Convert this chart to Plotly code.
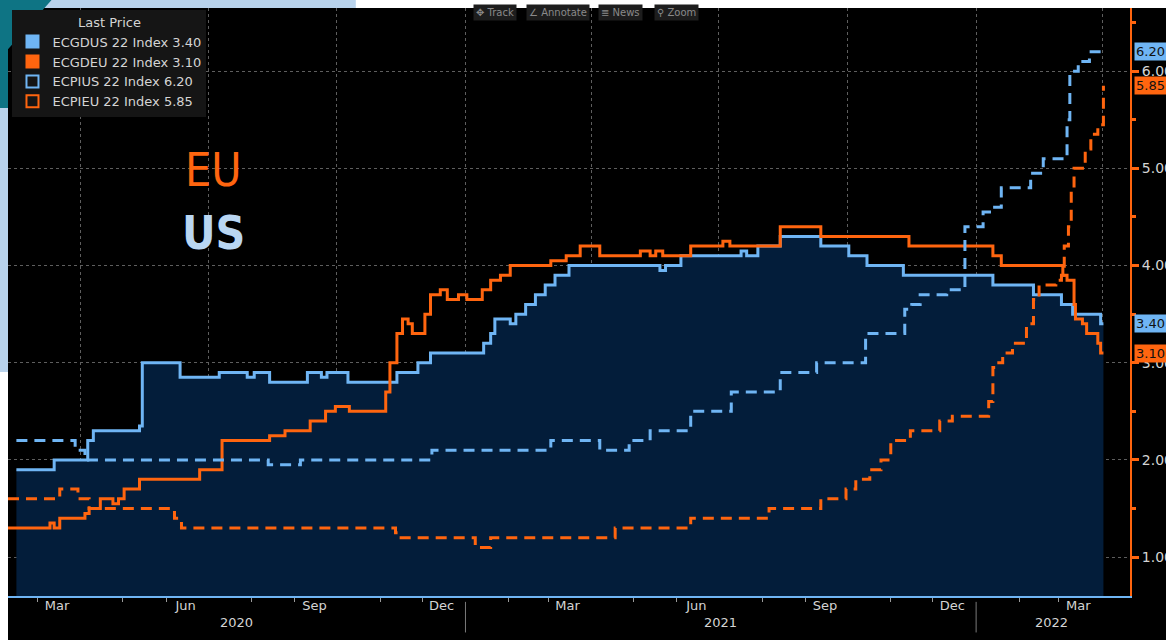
import plotly.graph_objects as go

# ---- values (step series, change points) ----
gdp_us_dates = ["2020-02-15", "2020-03-13", "2020-04-06", "2020-04-10", "2020-05-13", "2020-05-15",
                "2020-06-11", "2020-07-09", "2020-07-29", "2020-08-03", "2020-08-14", "2020-09-10",
                "2020-09-20", "2020-09-24", "2020-10-09", "2020-11-13", "2020-11-28", "2020-12-07",
                "2021-01-14", "2021-01-19", "2021-01-22", "2021-02-02", "2021-02-06", "2021-02-13",
                "2021-02-20", "2021-02-27", "2021-03-06", "2021-03-16", "2021-05-20", "2021-05-24",
                "2021-06-04", "2021-07-17", "2021-07-21", "2021-07-29", "2021-08-14", "2021-09-12",
                "2021-10-02", "2021-10-15", "2021-11-10", "2022-01-13", "2022-02-11", "2022-03-03",
                "2022-03-11", "2022-03-31", "2022-04-02"]
gdp_us_vals = [1.9, 2.0, 2.2, 2.3, 2.35, 3.0, 2.85, 2.9, 2.85, 2.9, 2.8, 2.9, 2.85, 2.9, 2.8,
               2.9, 3.0, 3.1, 3.2, 3.3, 3.45, 3.4, 3.5, 3.6, 3.7, 3.8, 3.9, 4.0, 3.95, 4.0,
               4.1, 4.15, 4.1, 4.2, 4.3, 4.2, 4.1, 4.0, 3.9, 3.8, 3.7, 3.6, 3.5, 3.4, 3.4]

gdp_eu_dates = ["2020-02-09", "2020-03-10", "2020-03-13", "2020-03-17", "2020-04-04", "2020-04-07",
                "2020-04-15", "2020-04-24", "2020-04-28", "2020-05-02", "2020-05-13", "2020-06-25",
                "2020-07-11", "2020-08-14", "2020-08-25", "2020-09-12", "2020-09-23", "2020-09-30",
                "2020-10-10", "2020-11-05", "2020-11-08", "2020-11-13", "2020-11-17", "2020-11-21",
                "2020-11-24", "2020-12-03", "2020-12-07", "2020-12-14", "2020-12-19", "2020-12-27",
                "2021-01-02", "2021-01-13", "2021-01-19", "2021-01-26", "2021-02-02", "2021-03-03",
                "2021-03-14", "2021-03-24", "2021-04-07", "2021-05-06", "2021-05-13", "2021-05-17",
                "2021-05-22", "2021-06-11", "2021-07-04", "2021-07-09", "2021-08-14", "2021-09-12",
                "2021-11-14", "2022-01-13", "2022-01-19", "2022-03-04", "2022-03-07", "2022-03-12",
                "2022-03-13", "2022-03-18", "2022-03-21", "2022-03-29", "2022-03-31", "2022-04-02"]
gdp_eu_vals = [1.3, 1.35, 1.3, 1.4, 1.45, 1.5, 1.6, 1.55, 1.6, 1.7, 1.8, 1.9, 2.2, 2.25, 2.3,
               2.4, 2.5, 2.55, 2.5, 2.7, 3.0, 3.3, 3.45, 3.4, 3.3, 3.5, 3.7, 3.75, 3.65, 3.7,
               3.65, 3.75, 3.85, 3.9, 4.0, 4.05, 4.1, 4.2, 4.1, 4.15, 4.1, 4.15, 4.1, 4.2, 4.25,
               4.2, 4.4, 4.3, 4.2, 4.1, 4.0, 3.9, 3.85, 3.6, 3.45, 3.4, 3.3, 3.2, 3.1, 3.1]

cpi_us_dates = ["2020-02-15", "2020-03-28", "2020-04-04", "2020-08-13", "2020-09-05", "2020-12-08",
                "2021-03-03", "2021-04-07", "2021-04-28", "2021-05-13", "2021-06-11", "2021-07-10",
                "2021-08-14", "2021-09-09", "2021-10-14", "2021-11-11", "2021-11-16", "2021-11-22",
                "2021-12-11", "2021-12-24", "2022-01-06", "2022-01-13", "2022-01-19", "2022-02-09",
                "2022-02-18", "2022-03-07", "2022-03-09", "2022-03-15", "2022-03-23", "2022-04-02"]
cpi_us_vals = [2.2, 2.1, 2.0, 1.95, 2.0, 2.1, 2.2, 2.1, 2.2, 2.3, 2.5, 2.7, 2.9, 3.0, 3.3,
               3.55, 3.6, 3.7, 3.75, 4.4, 4.55, 4.6, 4.8, 4.95, 5.1, 5.5, 6.0, 6.1, 6.2, 6.2]

cpi_eu_dates = ["2020-02-09", "2020-03-17", "2020-03-30", "2020-04-07", "2020-06-07", "2020-06-12",
                "2020-11-12", "2020-11-16", "2021-01-08", "2021-01-19", "2021-04-18", "2021-06-11",
                "2021-08-06", "2021-09-12", "2021-09-30", "2021-10-07", "2021-10-17", "2021-10-25",
                "2021-11-01", "2021-11-15", "2021-12-06", "2021-12-15", "2022-01-10", "2022-01-13",
                "2022-01-15", "2022-01-20", "2022-01-27", "2022-02-06", "2022-02-11", "2022-02-15",
                "2022-02-27", "2022-03-03", "2022-03-05", "2022-03-08", "2022-03-10", "2022-03-12",
                "2022-03-20", "2022-03-24", "2022-03-29", "2022-04-02"]
cpi_eu_vals = [1.6, 1.7, 1.6, 1.5, 1.4, 1.3, 1.25, 1.2, 1.1, 1.2, 1.3, 1.4, 1.5, 1.6, 1.7,
               1.8, 1.9, 2.0, 2.2, 2.3, 2.4, 2.45, 2.6, 2.95, 3.0, 3.1, 3.2, 3.4, 3.65, 3.8,
               3.85, 3.9, 4.2, 4.4, 4.8, 5.0, 5.2, 5.35, 5.45, 5.85]

names = ["ECGDUS 22 Index", "ECGDEU 22 Index", "ECPIUS 22 Index", "ECPIEU 22 Index"]

month_ticks = ["2020-03-15", "2020-06-15", "2020-09-15", "2020-12-15", "2021-03-15",
               "2021-06-15", "2021-09-15", "2021-12-15", "2022-03-15"]
month_text = ["Mar", "Jun", "Sep", "Dec", "Mar", "Jun", "Sep", "Dec", "Mar"]
year_text = ["2020", "2021", "2022"]
year_pos = ["2020-07-21", "2021-07-02", "2022-02-24"]
year_breaks = ["2021-01-01", "2022-01-01"]

BLUE = '#6fb5f4'
ORANGE = '#ff650f'
FILL = '#031d3a'
TXT = '#d4d4d4'
FONT = 'DejaVu Sans'
x_range = ["2020-02-09", "2022-04-21"]

fig = go.Figure()

# real series
fig.add_trace(go.Scatter(x=gdp_us_dates, y=gdp_us_vals, mode='lines',
                         line=dict(color=BLUE, width=3, shape='hv'),
                         fill='tozeroy', fillcolor=FILL, showlegend=False))
fig.add_trace(go.Scatter(x=gdp_eu_dates, y=gdp_eu_vals, mode='lines',
                         line=dict(color=ORANGE, width=3, shape='hv'), showlegend=False))
fig.add_trace(go.Scatter(x=cpi_us_dates, y=cpi_us_vals, mode='lines',
                         line=dict(color=BLUE, width=3, shape='hv', dash='11px,7px'),
                         showlegend=False))
fig.add_trace(go.Scatter(x=cpi_eu_dates, y=cpi_eu_vals, mode='lines',
                         line=dict(color=ORANGE, width=3, shape='hv', dash='11px,7px'),
                         showlegend=False))

# legend entries (Bloomberg style swatches)
last_vals = [gdp_us_vals[-1], gdp_eu_vals[-1], cpi_us_vals[-1], cpi_eu_vals[-1]]
colors = [BLUE, ORANGE, BLUE, ORANGE]
symbols = ['square', 'square', 'square-open', 'square-open']
for name, val, col, sym in zip(names, last_vals, colors, symbols):
    fig.add_trace(go.Scatter(x=[None], y=[None], mode='markers',
                             marker=dict(symbol=sym, size=12, color=col, line=dict(color=col, width=2)),
                             name=f"{name} {val:.2f}"))

# helper trace so the label axis gets drawn
fig.add_trace(go.Scatter(x=[x_range[0]], y=[None], xaxis='x2', showlegend=False, hoverinfo='skip'))

fig.update_layout(
    width=1166, height=640,
    margin=dict(l=8, r=36, t=8, b=44, autoexpand=False),
    paper_bgcolor='black', plot_bgcolor='black',
    font=dict(family=FONT, color=TXT, size=13),
    xaxis=dict(type='date', range=x_range, tickmode='linear', tick0='2020-01-01', dtick='M3',
               showticklabels=False, ticks='', showgrid=True, gridcolor='#5e5e5e',
               griddash='dot', gridwidth=1, zeroline=False,
               showline=True, linecolor=BLUE, linewidth=2,
               minor=dict(ticks='outside', ticklen=4, tickcolor='#9a9a9a',
                          dtick='M1', tick0='2020-01-01', showgrid=False)),
    xaxis2=dict(type='date', range=x_range, overlaying='x', side='bottom', anchor='y',
                tickmode='array', tickvals=month_ticks, ticktext=month_text,
                showgrid=False, ticks='', showline=False, zeroline=False,
                tickfont=dict(size=13, color=TXT, family=FONT)),
    yaxis=dict(side='right', range=[0.6, 6.65], tickmode='linear', tick0=0, dtick=1,
               tickformat='.2f', showgrid=True, gridcolor='#5e5e5e', griddash='dot',
               zeroline=False, showline=True, linecolor=ORANGE, linewidth=2,
               ticks='outside', ticklen=7, tickwidth=3, tickcolor=ORANGE,
               tickfont=dict(size=14, color=TXT, family=FONT),
               minor=dict(ticks='outside', ticklen=4, tickcolor=ORANGE, dtick=0.5,
                          showgrid=False)),
    legend=dict(x=0.004, y=0.997, xanchor='left', yanchor='top', bgcolor='#151515',
                font=dict(size=13, color=TXT, family=FONT), tracegroupgap=0, itemwidth=30,
                title=dict(text='Last Price', side='top center',
                           font=dict(size=13, color=TXT, family=FONT))),
    showlegend=True,
)

# EU / US labels
fig.add_annotation(x=0.183, y=0.725, xref='paper', yref='paper', text='EU', showarrow=False,
                   xanchor='center', yanchor='middle',
                   font=dict(size=46, color=ORANGE, family='Liberation Sans Narrow, DejaVu Sans Condensed'))
fig.add_annotation(x=0.183, y=0.617, xref='paper', yref='paper', text='<b>US</b>', showarrow=False,
                   xanchor='center', yanchor='middle',
                   font=dict(size=46, color='#b9d6f2', family='Liberation Sans Narrow, DejaVu Sans Condensed'))

# last value tags on the right axis
for val, col in zip(last_vals, colors):
    fig.add_annotation(x=1.004, y=val, xref='paper', yref='y', text=f"{val:.2f}", showarrow=False,
                       xanchor='left', yanchor='middle', bgcolor=col, borderpad=1,
                       font=dict(size=13, color='#111111', family=FONT))

# year labels and separators
for yr, pos in zip(year_text, year_pos):
    fig.add_annotation(x=pos, y=-0.045, xref='x', yref='paper', text=yr, showarrow=False,
                       xanchor='center', yanchor='middle',
                       font=dict(size=13, color=TXT, family=FONT))
for br in year_breaks:
    fig.add_shape(type='line', x0=br, x1=br, xref='x', yref='paper', y0=-0.01, y1=-0.062,
                  line=dict(color='#7a7a7a', width=1))

# toolbar buttons at top
for label, xp in zip(['✥ Track', '∠ Annotate', '≣ News', '⚲ Zoom'], [0.434, 0.490, 0.546, 0.596]):
    fig.add_annotation(x=xp, y=0.992, xref='paper', yref='paper', text=label, showarrow=False,
                       xanchor='center', yanchor='middle',
                       bgcolor='#1d1d1d', borderpad=2, font=dict(size=10, color='#8a8a8a', family=FONT))

# screenshot frame around the chart
frame = [
    dict(x0=-0.0072, x1=1.033, y0=1.0, y1=1.0140, color='white'),
    dict(x0=-0.0072, x1=0.31, y0=1.0, y1=1.0140, color='#b9d3ec'),
    dict(x0=-0.0072, x1=0.0, y0=0.381, y1=1.0140, color='#b9d3ec'),
    dict(x0=-0.0072, x1=0.0, y0=-0.076, y1=0.381, color='white'),
]
for f in frame:
    fig.add_shape(type='rect', xref='paper', yref='paper', x0=f['x0'], x1=f['x1'],
                  y0=f['y0'], y1=f['y1'], fillcolor=f['color'], line=dict(width=0), layer='above')
fig.add_shape(type='path', xref='paper', yref='paper', layer='above',
              path='M -0.0072 1.014 L 0.039 1.014 L 0.0 0.93 L 0.0 0.83 L -0.0072 0.83 Z',
              fillcolor='#0e7484', line=dict(width=0))

# page body has a default 8px margin; drop it so the figure sits at the window corner
fig.write_html("out.html", config={'displayModeBar': False},
               post_script="document.body.style.margin='0';")
